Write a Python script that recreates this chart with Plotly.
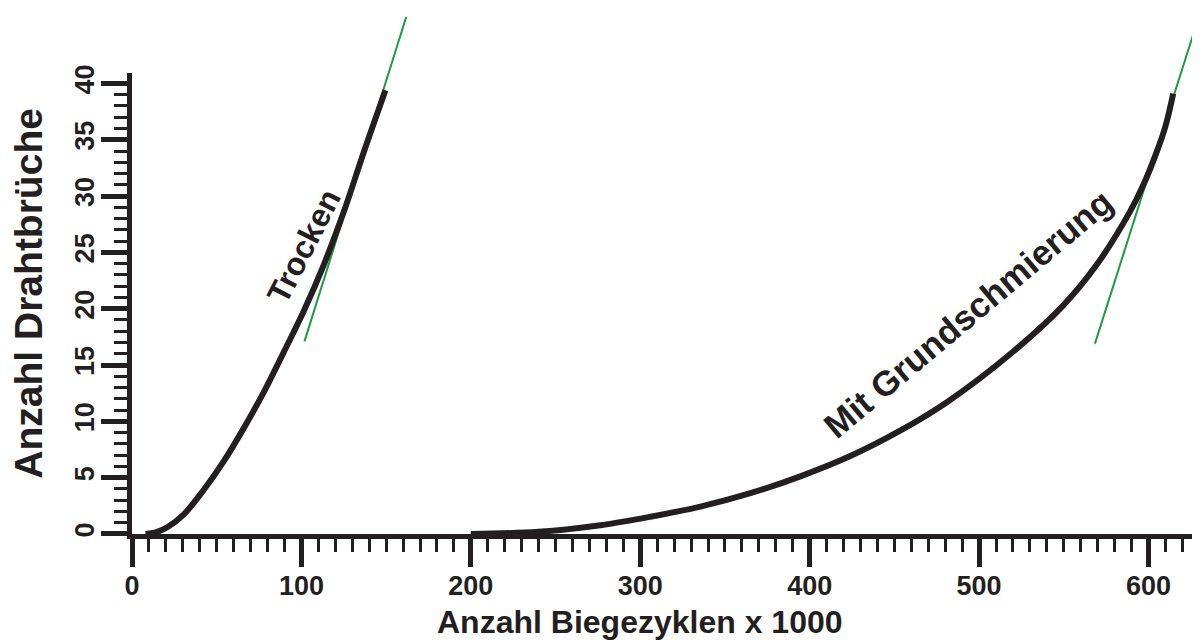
import plotly.graph_objects as go

# Data (x in thousands of bending cycles, y = number of wire breaks)
trocken_x = [8, 14, 20.8, 30.6, 42.4, 54.2, 66, 77.8, 89.6, 101.4, 113.2, 125, 136.8, 149.6]
trocken_y = [0, 0.15, 0.6, 1.75, 3.93, 6.47, 9.4, 12.6, 16.15, 19.8, 23.9, 28.6, 33.9, 39.4]

grund_x = [200, 240, 276.5, 306, 335.5, 365, 394.5, 424, 453.4, 481, 520.2, 549.7,
           569.4, 589, 597, 604.8, 610, 614.6]
grund_y = [0, 0.2, 0.78, 1.53, 2.43, 3.62, 5.12, 6.92, 9.17, 11.7, 16.2, 20.3,
           23.9, 28.6, 31.0, 33.9, 36.2, 39.1]

tangent1_x = [101.8, 163.1]
tangent1_y = [17.1, 46.5]
tangent2_x = [568.4, 632]
tangent2_y = [16.9, 47.0]

x_tickvals = [0, 100, 200, 300, 400, 500, 600]
y_tickvals = [0, 5, 10, 15, 20, 25, 30, 35, 40]

FONT = "Arial, 'Liberation Sans', sans-serif"
INK = "#231f20"
GREEN = "#1d9c3f"

YMAX_VIS = 40.9
YMAX_ALL = 45.9

fig = go.Figure()
# empty trace so that the visible (x, y) subplot with its axis is created
fig.add_trace(go.Scatter(x=[None], y=[None], yaxis="y", mode="lines",
                         showlegend=False, hoverinfo="skip"))
for tx, ty in [(tangent1_x, tangent1_y), (tangent2_x, tangent2_y)]:
    fig.add_trace(go.Scatter(x=tx, y=ty, mode="lines", yaxis="y2",
                             line=dict(color=GREEN, width=2),
                             showlegend=False, hoverinfo="skip"))
for cx, cy in [(trocken_x, trocken_y), (grund_x, grund_y)]:
    fig.add_trace(go.Scatter(x=cx, y=cy, mode="lines", yaxis="y2",
                             line=dict(color=INK, width=6, shape="spline", smoothing=1.0),
                             showlegend=False, hoverinfo="skip"))

fig.update_layout(
    width=1192, height=633,
    margin=dict(l=123.5, r=0, t=0, b=107),
    paper_bgcolor="white", plot_bgcolor="rgba(0,0,0,0)",
    showlegend=False,
    xaxis=dict(
        domain=[0, 1], range=[0, 630.4], anchor="y",
        showline=True, linewidth=5, linecolor=INK,
        showgrid=False, zeroline=False,
        ticks="outside", tickvals=x_tickvals, ticklen=28, tickwidth=5, tickcolor=INK,
        minor=dict(dtick=10, tick0=0, ticks="outside", ticklen=13, tickwidth=3,
                   tickcolor=INK, showgrid=False),
        tickfont=dict(family=FONT, size=27, color=INK, weight="bold"),
        ticklabelstandoff=-4,
    ),
    yaxis=dict(
        domain=[0, YMAX_VIS / YMAX_ALL], range=[0, YMAX_VIS], anchor="x",
        showline=True, linewidth=5, linecolor=INK,
        showgrid=False, zeroline=False,
        ticks="outside", tickvals=y_tickvals, ticklen=26, tickwidth=5, tickcolor=INK,
        minor=dict(dtick=1, tick0=0, ticks="outside", ticklen=13, tickwidth=3,
                   tickcolor=INK, showgrid=False),
        tickangle=-90,
        tickfont=dict(family=FONT, size=27, color=INK, weight="bold"),
        ticklabelstandoff=-4,
    ),
    yaxis2=dict(
        domain=[0, 1], range=[0, YMAX_ALL], anchor="x", visible=False,
        showgrid=False, zeroline=False,
    ),
)

annotations = [
    dict(text="Anzahl Biegezyklen x 1000", xref="paper", yref="paper",
         x=0.4759, y=-0.17, xanchor="center", yanchor="middle", showarrow=False,
         font=dict(family=FONT, size=32, color=INK, weight="bold")),
    dict(text="Anzahl Drahtbrüche", xref="paper", yref="paper",
         x=-0.0964, y=0.465, xanchor="center", yanchor="middle", showarrow=False,
         textangle=-90,
         font=dict(family=FONT, size=39, color=INK, weight="bold")),
    dict(text="Trocken", xref="x", yref="y2", x=101.4, y=25.6,
         xanchor="center", yanchor="middle", showarrow=False, textangle=-63,
         font=dict(family=FONT, size=32, color=INK, weight="bold")),
    dict(text="Mit Grundschmierung", xref="x", yref="y2", x=493.5, y=19.6,
         xanchor="center", yanchor="middle", showarrow=False, textangle=-40,
         font=dict(family=FONT, size=35, color=INK, weight="bold")),
]
fig.update_layout(annotations=annotations)

fig.write_html("out.html")
